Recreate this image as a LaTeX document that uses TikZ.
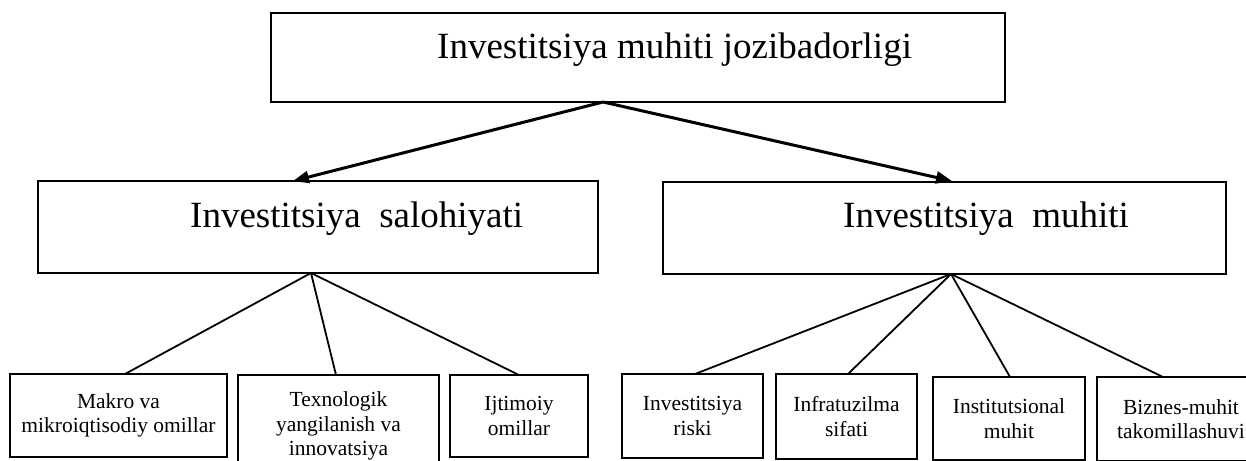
\documentclass[tikz,border=0pt]{standalone}
\usepackage{fontspec}
\setmainfont{Liberation Serif}
\usetikzlibrary{arrows.meta,calc}
\tikzset{
  box/.style={draw, rectangle, line width=1.5pt, outer sep=0pt, inner sep=0pt, anchor=north west},
  bigtext/.style={font=\fontsize{37}{42}\selectfont, inner sep=0pt, anchor=base west},
  smallbox/.style={box, font=\fontsize{21.5}{24.5}\selectfont, align=center},
  mainarrow/.style={line width=3pt, -{Triangle[length=16pt,width=12pt]}},
  branch/.style={line width=1.8pt},
}
\begin{document}
\begin{tikzpicture}[x=1pt,y=-1pt]
\useasboundingbox (0,0) rectangle (1246,460);
\clip (0,0) rectangle (1246,460);
% top
\node[box, minimum width=734pt, minimum height=89pt] (root) at (271,13) {};
\node[bigtext] (troot) at (437,59) {Investitsiya muhiti jozibadorligi};
% middle
\node[box, minimum width=560pt, minimum height=92pt] (pot) at (38,181) {};
\node[bigtext] (tpot) at (190,227) {Investitsiya~~salohiyati};
\node[box, minimum width=563pt, minimum height=92pt] (env) at (663,182) {};
\node[bigtext] (tenv) at (843,227) {Investitsiya~~muhiti};
% bottom
\node[smallbox, minimum width=217pt, minimum height=83pt] (b1) at (10,374) {Makro va\\mikroiqtisodiy omillar};
\node[smallbox, minimum width=201pt, minimum height=102pt] (b2) at (238,375) {Texnologik\\yangilanish va\\innovatsiya};
\node[smallbox, minimum width=138pt, minimum height=82pt] (b3) at (450,375) {Ijtimoiy\\omillar};
\node[smallbox, minimum width=141pt, minimum height=84pt] (b4) at (622,374) {Investitsiya\\riski};
\node[smallbox, minimum width=141pt, minimum height=85pt] (b5) at (776,374) {Infratuzilma\\sifati};
\node[smallbox, minimum width=152pt, minimum height=83pt] (b6) at (933,377) {Institutsional\\muhit};
\node[smallbox, minimum width=168pt, minimum height=84pt] (b7) at (1097,377) {Biznes-muhit\\takomillashuvi};
% junction points
\coordinate (ra) at ($(root.south west)+(332,0)$);
\coordinate (pa) at ($(pot.south west)+(273,0)$);
\coordinate (ea) at ($(env.south west)+(288,0)$);
% arrows
\draw[mainarrow] (ra) -- ($(pot.north west)+(255,0)$);
\draw[mainarrow] (ra) -- ($(env.north west)+(289,-1)$);
% branches
\draw[branch] (pa) -- ($(b1.north west)+(115,0)$);
\draw[branch] (pa) -- ($(b2.north west)+(98,0)$);
\draw[branch] (pa) -- ($(b3.north west)+(69,0)$);
\draw[branch] (ea) -- ($(b4.north west)+(73,0)$);
\draw[branch] (ea) -- ($(b5.north west)+(72,0)$);
\draw[branch] (ea) -- ($(b6.north west)+(77,0)$);
\draw[branch] (ea) -- ($(b7.north west)+(66,0)$);
\end{tikzpicture}
\end{document}
